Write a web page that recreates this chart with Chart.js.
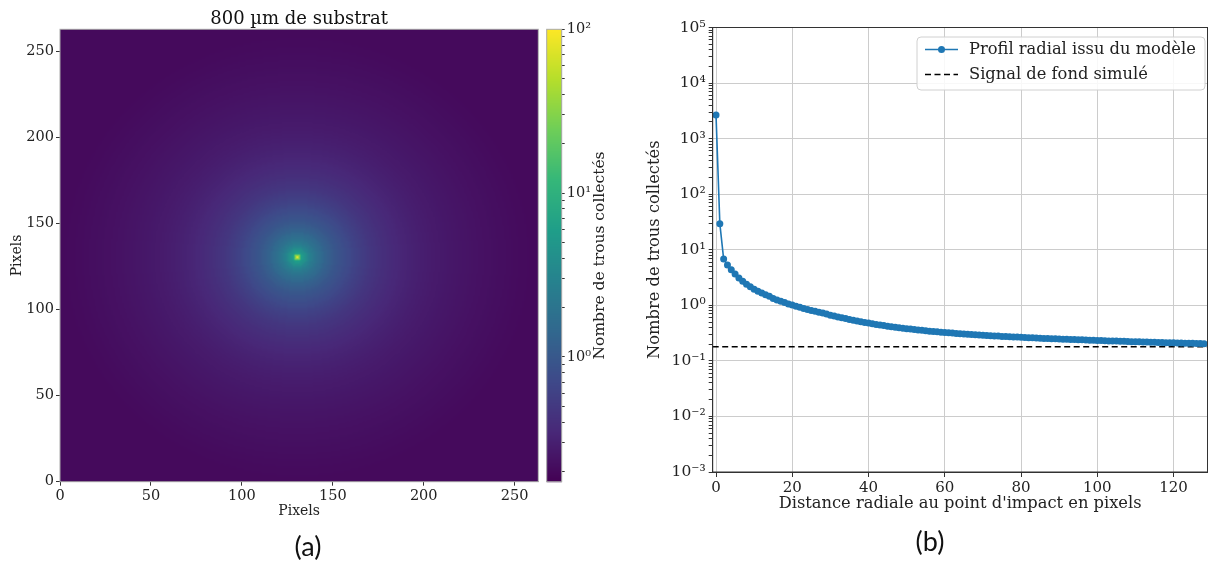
<!DOCTYPE html>
<html>
<head>
<meta charset="utf-8">
<script src="https://cdn.jsdelivr.net/npm/chart.js@4.4.1/dist/chart.umd.min.js"></script>
<style>
  html, body { margin: 0; padding: 0; background: #fff; }
  #page { position: relative; width: 1208px; height: 562px; overflow: hidden; background: #fff; }
  #page canvas { position: absolute; }
  .panel-tag { position: absolute; width: 80px; text-align: center; font-family: Lato, "Open Sans", sans-serif; font-size: 27px; color: #111; line-height: 32px; }
</style>
</head>
<body>
<div id="page">
  <canvas id="heatmapChart" width="545" height="530" style="left:0;top:0"></canvas>
  <canvas id="colorbarChart" width="100" height="530" style="left:540px;top:0"></canvas>
  <canvas id="profileChart" width="640" height="530" style="left:600px;top:0"></canvas>
  <div class="panel-tag" style="left:268px;top:530px">(a)</div>
  <div class="panel-tag" style="left:890px;top:525px">(b)</div>
</div>
<script>
// radial profile: hole count per radial distance (pixels 0..128)
const profileValues = [
  2650, 29.5, 6.8, 5.3, 4.35, 3.65, 3.1, 2.7, 2.4, 2.15,
  1.95, 1.79, 1.66, 1.55, 1.45, 1.33, 1.25, 1.18, 1.12, 1.06,
  1.01, 0.96, 0.92, 0.88, 0.845, 0.81, 0.78, 0.75, 0.725, 0.70,
  0.665, 0.64, 0.618, 0.597, 0.577, 0.558, 0.54, 0.523, 0.507, 0.492,
  0.478, 0.465, 0.453, 0.442, 0.431, 0.421, 0.412, 0.403, 0.395, 0.387,
  0.38, 0.373, 0.366, 0.36, 0.354, 0.348, 0.343, 0.338, 0.333, 0.328,
  0.324, 0.32, 0.316, 0.312, 0.308, 0.305, 0.301, 0.298, 0.295, 0.292,
  0.289, 0.286, 0.284, 0.281, 0.279, 0.276, 0.274, 0.272, 0.27, 0.268,
  0.266, 0.264, 0.262, 0.26, 0.258, 0.256, 0.254, 0.253, 0.251, 0.249,
  0.248, 0.246, 0.245, 0.243, 0.242, 0.24, 0.239, 0.237, 0.236, 0.235,
  0.233, 0.232, 0.231, 0.229, 0.228, 0.227, 0.226, 0.225, 0.224, 0.222,
  0.221, 0.22, 0.219, 0.218, 0.217, 0.216, 0.215, 0.214, 0.213, 0.212,
  0.211, 0.21, 0.209, 0.208, 0.208, 0.207, 0.206, 0.205, 0.204
];
const radialDistance = profileValues.map((v, i) => i);
const backgroundLevel = 0.18;

// detector image (panel a)
const heatmapSize = 263;
const impactPixel = 130;
const colorbarRange = [0.173, 100];

// axes
const pixelTicks = [0, 50, 100, 150, 200, 250];
const distanceTicks = [0, 20, 40, 60, 80, 100, 120];
const distanceRange = [-0.87, 128.9];
const countExponents = [-3, -2, -1, 0, 1, 2, 3, 4, 5];
const colorbarExponents = [-1, 0, 1, 2];
const minorMultipliers = [2, 3, 4, 5, 6, 7, 8, 9];

const viridisStops = ['#440154', '#482878', '#3e4989', '#31688e', '#26828e',
                      '#1f9e89', '#35b779', '#6ece58', '#b5de2b', '#fde725'];
const serif = 'DejaVu Serif';
Chart.defaults.font.family = serif;
Chart.defaults.color = '#222';

const stopRgb = viridisStops.map(h => [1, 3, 5].map(k => parseInt(h.substr(k, 2), 16)));
function viridis(t) {
  t = Math.min(1, Math.max(0, t));
  const p = t * (stopRgb.length - 1);
  const i = Math.min(Math.floor(p), stopRgb.length - 2);
  const f = p - i;
  return stopRgb[i].map((c, k) => Math.round(c + (stopRgb[i + 1][k] - c) * f));
}
function colorT(v) {
  const lo = Math.log10(colorbarRange[0]), hi = Math.log10(colorbarRange[1]);
  return (Math.log10(Math.min(Math.max(v, colorbarRange[0]), colorbarRange[1])) - lo) / (hi - lo);
}

const supMap = { '-': '\u207B', '0': '\u2070', '1': '\u00B9', '2': '\u00B2', '3': '\u00B3',
                 '4': '\u2074', '5': '\u2075', '6': '\u2076', '7': '\u2077', '8': '\u2078', '9': '\u2079' };
function isPower(value) {
  const e = Math.log10(value);
  return Math.abs(e - Math.round(e)) < 1e-6;
}
function powerLabel(value) {
  if (!isPower(value)) return '';
  return '10' + String(Math.round(Math.log10(value))).split('').map(c => supMap[c]).join('');
}
function logTicks(exponents, lo, hi) {
  const out = [];
  exponents.forEach(e => {
    out.push(Math.pow(10, e));
    minorMultipliers.forEach(m => out.push(m * Math.pow(10, e)));
  });
  return out.filter(v => v >= lo * 0.999 && v <= hi * 1.001).sort((a, b) => a - b).map(v => ({ value: v }));
}

function framePlugin(color) {
  return {
    id: 'frame',
    afterDatasetsDraw(chart) {
      const { ctx, chartArea: a } = chart;
      ctx.save();
      ctx.strokeStyle = color;
      ctx.lineWidth = 1;
      ctx.strokeRect(a.left, a.top, a.right - a.left, a.bottom - a.top);
      ctx.restore();
    }
  };
}

// ---- panel (a): image built from the radial profile ----
const heatmapPlugin = {
  id: 'heatmap',
  beforeDatasetsDraw(chart) {
    const off = document.createElement('canvas');
    off.width = heatmapSize;
    off.height = heatmapSize;
    const octx = off.getContext('2d');
    const img = octx.createImageData(heatmapSize, heatmapSize);
    const last = profileValues.length - 1;
    for (let row = 0; row < heatmapSize; row++) {
      const py = heatmapSize - 1 - row;
      for (let px = 0; px < heatmapSize; px++) {
        const r = Math.round(Math.hypot(px - impactPixel, py - impactPixel));
        const v = profileValues[Math.min(r, last)];
        const c = viridis(colorT(v));
        const k = (row * heatmapSize + px) * 4;
        img.data[k] = c[0]; img.data[k + 1] = c[1]; img.data[k + 2] = c[2]; img.data[k + 3] = 255;
      }
    }
    octx.putImageData(img, 0, 0);
    const xs = chart.scales.x, ys = chart.scales.y;
    const x0 = xs.getPixelForValue(0), x1 = xs.getPixelForValue(heatmapSize);
    const y0 = ys.getPixelForValue(heatmapSize), y1 = ys.getPixelForValue(0);
    const ctx = chart.ctx;
    ctx.save();
    ctx.imageSmoothingEnabled = true;
    ctx.imageSmoothingQuality = 'high';
    ctx.drawImage(off, x0, y0, x1 - x0, y1 - y0);
    ctx.restore();
  }
};
const heatTitlePlugin = {
  id: 'heatTitle',
  afterDraw(chart) {
    const { ctx, chartArea: a } = chart;
    ctx.save();
    ctx.font = '18px "' + serif + '"';
    ctx.fillStyle = '#111';
    ctx.textAlign = 'center';
    ctx.textBaseline = 'alphabetic';
    ctx.fillText('800 \u00B5m de substrat', (a.left + a.right) / 2, a.top - 5);
    ctx.restore();
  }
};

const tickFont = { family: serif, size: 14.5 };
const pixelAxis = (afterFit, titlePadding) => ({
  type: 'linear',
  min: 0,
  max: heatmapSize,
  afterBuildTicks: s => { s.ticks = pixelTicks.map(v => ({ value: v })); },
  afterFit: afterFit,
  grid: { drawOnChartArea: false, tickLength: 4, tickColor: '#333' },
  border: { color: '#aaa' },
  ticks: { font: tickFont, color: '#222', padding: 2, maxRotation: 0, autoSkip: false },
  title: { display: true, text: 'Pixels', font: { family: serif, size: 14 }, color: '#222', padding: titlePadding }
});

new Chart(document.getElementById('heatmapChart'), {
  type: 'scatter',
  data: { datasets: [] },
  options: {
    responsive: false,
    animation: false,
    layout: { padding: { left: 0, right: 6.7, top: 29.3, bottom: 8.3 } },
    plugins: { legend: { display: false }, tooltip: { enabled: false } },
    scales: {
      x: pixelAxis(s => { s.height = 40; }, { top: 0, bottom: 2 }),
      y: pixelAxis(s => { s.width = 60; }, { top: 9, bottom: 0 })
    }
  },
  plugins: [heatmapPlugin, framePlugin('#aaa'), heatTitlePlugin]
});

// ---- colorbar ----
const colorbarPlugin = {
  id: 'colorbarFill',
  beforeDatasetsDraw(chart) {
    const { ctx, chartArea: a } = chart;
    const ys = chart.scales.y;
    ctx.save();
    for (let y = Math.floor(a.top); y < a.bottom; y++) {
      const c = viridis(colorT(ys.getValueForPixel(y + 0.5)));
      ctx.fillStyle = 'rgb(' + c.join(',') + ')';
      ctx.fillRect(a.left, Math.max(y, a.top), a.right - a.left, 1.2);
    }
    ctx.restore();
  },
  afterDraw(chart) {
    const { ctx, chartArea: a } = chart;
    ctx.save();
    ctx.translate(60, (a.top + a.bottom) / 2);
    ctx.rotate(-Math.PI / 2);
    ctx.font = '15.5px "' + serif + '"';
    ctx.fillStyle = '#222';
    ctx.textAlign = 'center';
    ctx.textBaseline = 'middle';
    ctx.fillText('Nombre de trous collect\u00E9s', 0, 0);
    ctx.restore();
  }
};

new Chart(document.getElementById('colorbarChart'), {
  type: 'scatter',
  data: { datasets: [] },
  options: {
    responsive: false,
    animation: false,
    layout: { padding: { left: 6.7, right: 0, top: 29.3, bottom: 48.3 } },
    plugins: { legend: { display: false }, tooltip: { enabled: false } },
    scales: {
      x: { display: false, min: 0, max: 1 },
      y: {
        type: 'logarithmic',
        position: 'right',
        min: colorbarRange[0],
        max: colorbarRange[1],
        afterBuildTicks: s => { s.ticks = logTicks(colorbarExponents, colorbarRange[0], colorbarRange[1]); },
        afterFit: s => { s.width = 78.3; },
        grid: { drawOnChartArea: false, tickLength: 3, tickColor: '#333' },
        border: { color: '#aaa' },
        ticks: { font: tickFont, color: '#222', padding: 2, autoSkip: false, callback: v => powerLabel(v) }
      }
    }
  },
  plugins: [colorbarPlugin, framePlugin('#aaa')]
});

// ---- panel (b): radial profile ----
const boxLegendPlugin = {
  id: 'boxLegend',
  afterDraw(chart) {
    const { ctx, chartArea: a } = chart;
    const x0 = a.right - 290.5, y0 = a.top + 9.5, w = 288, h = 53;
    ctx.save();
    ctx.beginPath();
    ctx.roundRect(x0, y0, w, h, 4);
    ctx.fillStyle = 'rgba(255,255,255,0.85)';
    ctx.fill();
    ctx.strokeStyle = '#d0d0d0';
    ctx.lineWidth = 1;
    ctx.stroke();
    chart.data.datasets.forEach((ds, i) => {
      const cy = y0 + 12.5 + i * 25;
      ctx.beginPath();
      ctx.setLineDash(ds.borderDash || []);
      ctx.strokeStyle = ds.borderColor;
      ctx.lineWidth = ds.borderWidth;
      ctx.moveTo(x0 + 8, cy);
      ctx.lineTo(x0 + 41, cy);
      ctx.stroke();
      ctx.setLineDash([]);
      if (ds.pointRadius > 0) {
        ctx.beginPath();
        ctx.fillStyle = ds.backgroundColor;
        ctx.arc(x0 + 24.5, cy, ds.pointRadius, 0, Math.PI * 2);
        ctx.fill();
      }
      ctx.font = '16.3px "' + serif + '"';
      ctx.fillStyle = '#222';
      ctx.textAlign = 'left';
      ctx.textBaseline = 'middle';
      ctx.fillText(ds.label, x0 + 52, cy);
    });
    ctx.restore();
  }
};

new Chart(document.getElementById('profileChart'), {
  type: 'line',
  data: {
    datasets: [
      {
        label: 'Profil radial issu du mod\u00E8le',
        data: profileValues.map((v, i) => ({ x: radialDistance[i], y: v })),
        borderColor: '#1f77b4',
        backgroundColor: '#1f77b4',
        borderWidth: 1.6,
        pointRadius: 3.5,
        pointBorderWidth: 0,
        pointHoverRadius: 3.5,
        tension: 0
      },
      {
        label: 'Signal de fond simul\u00E9',
        data: [{ x: distanceRange[0], y: backgroundLevel }, { x: distanceRange[1], y: backgroundLevel }],
        borderColor: '#000',
        backgroundColor: '#000',
        borderDash: [6, 3.5],
        borderWidth: 1.5,
        pointRadius: 0,
        tension: 0
      }
    ]
  },
  options: {
    responsive: false,
    animation: false,
    layout: { padding: { left: 0, right: 32.5, top: 27.5, bottom: 8 } },
    plugins: { legend: { display: false }, tooltip: { enabled: false } },
    scales: {
      x: {
        type: 'linear',
        min: distanceRange[0],
        max: distanceRange[1],
        afterBuildTicks: s => { s.ticks = distanceTicks.map(v => ({ value: v })); },
        afterFit: s => { s.height = 50; },
        grid: { color: '#cccccc', lineWidth: 1, tickLength: 5, tickColor: '#333' },
        border: { color: '#333' },
        ticks: { font: { family: serif, size: 15 }, color: '#222', padding: 2, maxRotation: 0, autoSkip: false },
        title: { display: true, text: "Distance radiale au point d'impact en pixels",
                 font: { family: serif, size: 16.3 }, color: '#222', padding: { top: 0, bottom: 8.5 } }
      },
      y: {
        type: 'logarithmic',
        min: Math.pow(10, countExponents[0]),
        max: Math.pow(10, countExponents[countExponents.length - 1]),
        afterBuildTicks: s => {
          s.ticks = logTicks(countExponents, Math.pow(10, countExponents[0]), Math.pow(10, countExponents[countExponents.length - 1]));
        },
        afterFit: s => { s.width = 112.7; },
        grid: {
          color: c => (c.tick && isPower(c.tick.value)) ? '#cccccc' : 'rgba(0,0,0,0)',
          lineWidth: 1,
          tickLength: 4,
          tickColor: '#333'
        },
        border: { color: '#333' },
        ticks: { font: { family: serif, size: 15.5 }, color: '#222', padding: 3, autoSkip: false, callback: v => powerLabel(v) },
        title: { display: true, text: 'Nombre de trous collect\u00E9s',
                 font: { family: serif, size: 16.3 }, color: '#222', padding: { top: 45, bottom: 0 } }
      }
    }
  },
  plugins: [framePlugin('#333'), boxLegendPlugin]
});
</script>
</body>
</html>
